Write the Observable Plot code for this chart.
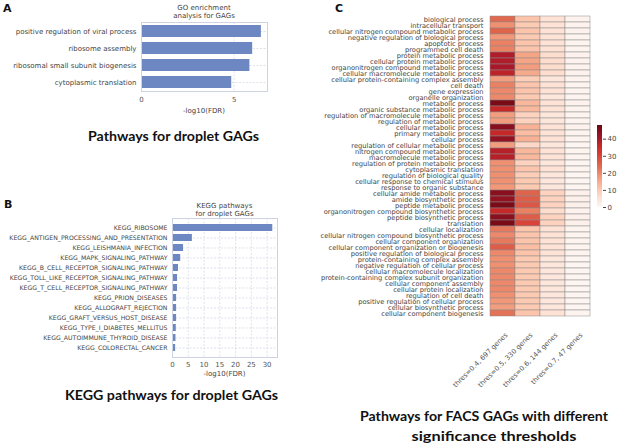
<!DOCTYPE html>
<html><head><meta charset="utf-8">
<script src="https://cdn.jsdelivr.net/npm/d3@7"></script>
<script src="https://cdn.jsdelivr.net/npm/@observablehq/plot@0.6"></script>
<style>
body{margin:0;background:#fff;}
#root{position:relative;width:617px;height:446px;overflow:hidden;}
#root svg{position:absolute;}
</style></head><body><div id="root"></div>
<script>
// ---------- DATA ----------
const goTerms = ["positive regulation of viral process","ribosome assembly","ribosomal small subunit biogenesis","cytoplasmic translation"];
const goValues = [6.47, 6.0, 5.85, 4.87];
const goTicks = [0, 5];

const keggTerms = ["KEGG_RIBOSOME","KEGG_ANTIGEN_PROCESSING_AND_PRESENTATION","KEGG_LEISHMANIA_INFECTION","KEGG_MAPK_SIGNALING_PATHWAY","KEGG_B_CELL_RECEPTOR_SIGNALING_PATHWAY","KEGG_TOLL_LIKE_RECEPTOR_SIGNALING_PATHWAY","KEGG_T_CELL_RECEPTOR_SIGNALING_PATHWAY","KEGG_PRION_DISEASES","KEGG_ALLOGRAFT_REJECTION","KEGG_GRAFT_VERSUS_HOST_DISEASE","KEGG_TYPE_I_DIABETES_MELLITUS","KEGG_AUTOIMMUNE_THYROID_DISEASE","KEGG_COLORECTAL_CANCER"];
const keggValues = [31.8, 6.3, 3.5, 2.6, 1.9, 1.6, 1.6, 1.3, 1.3, 1.3, 1.2, 1.1, 1.0];
const keggTicks = [0, 5, 10, 15, 20, 25, 30];

const thresholds = ["thres=0.4, 697 genes","thres=0.5, 330 genes","thres=0.6, 144 genes","thres=0.7, 47 genes"];
const facsTerms = ["biological process","intracellular transport","cellular nitrogen compound metabolic process","negative regulation of biological process","apoptotic process","programmed cell death","protein metabolic process","cellular protein metabolic process","organonitrogen compound metabolic process","cellular macromolecule metabolic process","cellular protein-containing complex assembly","cell death","gene expression","organelle organization","metabolic process","organic substance metabolic process","regulation of macromolecule metabolic process","regulation of metabolic process","cellular metabolic process","primary metabolic process","cellular process","regulation of cellular metabolic process","nitrogen compound metabolic process","macromolecule metabolic process","regulation of protein metabolic process","cytoplasmic translation","regulation of biological quality","cellular response to chemical stimulus","response to organic substance","cellular amide metabolic process","amide biosynthetic process","peptide metabolic process","organonitrogen compound biosynthetic process","peptide biosynthetic process","translation","cellular localization","cellular nitrogen compound biosynthetic process","cellular component organization","cellular component organization or biogenesis","positive regulation of biological process","protein-containing complex assembly","negative regulation of cellular process","cellular macromolecule localization","protein-containing complex subunit organization","cellular component assembly","cellular protein localization","regulation of cell death","positive regulation of cellular process","cellular biosynthetic process","cellular component biogenesis"];
const facs04 = [24,19,25,18,21,21,39,39,40,37,17,21,20,20,46,36,17,17,44,36,43,17,38,38,19,19,19,19,18,44,43,46,36,44,46,22,20,22,26,20,19,19,20,20,20,20,19,18,17,23];
const facs05 = [11,10,11,10,11,11,16,16,17,15,9,11,11,10,13,13,8,8,14,12,14,7,13,13,8,11,9,10,10,25,26,27,21,26,30,11,11,11,12,11,10,10,10,10,10,10,10,10,10,11];
const facs06 = [5,5,5,5,5,5,6,6,6,6,4,5,5,4,5,5,4,4,5,5,5,4,5,5,4,5,4,4,4,8,8,8,6,8,8,5,5,5,5,5,4,4,4,4,4,4,4,4,4,5];
const facs07 = [1,1,1,0.5,0.5,0.5,1,1,1,1,0.5,0.5,0.5,0.5,1,0.5,0.5,0.5,1,0.5,0.5,0.3,0.5,0.5,0.3,0.5,0.3,0.3,0.3,1.5,1.5,1.5,1,1.5,1.5,0.5,0.5,0.5,0.5,0.5,0.3,0.3,0.3,0.3,0.3,0.3,0.3,0.3,0.3,0.5];
const colorMax = 48;
const colorTicks = [0, 10, 20, 30, 40];
// colour ramp (value stops -> colours)
const rampStops = [0, 5, 11, 19, 24, 30, 36, 40, 48];
const rampColors = ["#fdf6f3", "#fde2d5", "#fcc4aa", "#f09070", "#e06a50", "#d8433a", "#c42828", "#a8182a", "#6a0812"];

// ---------- BUILD ----------
const root = document.getElementById("root");
const baseStyle = {fontFamily: "DejaVu Sans", fontSize: "7px", color: "#444", background: "transparent", overflow: "visible"};
function place(el, left, top) { el.style.left = left + "px"; el.style.top = top + "px"; root.appendChild(el); }

const barColor = "#6d87c3";
const gridStyle = {stroke: "#c9cfdd", strokeOpacity: 1, strokeDasharray: "2,1.5", strokeWidth: 0.6};

// Panel A
const goData = goTerms.map((t, i) => ({term: t, value: goValues[i]}));
const plotA = Plot.plot({
  width: 280, height: 120,
  marginLeft: 141, marginRight: 13, marginTop: 22, marginBottom: 29,
  style: baseStyle,
  x: {domain: [0, 6.8]},
  y: {type: "band", domain: goTerms, paddingInner: 0.3, paddingOuter: 0.15},
  marks: [
    Plot.gridX(goTicks, gridStyle),
    Plot.gridY(goTerms, gridStyle),
    Plot.barX(goData, {x: "value", y: "term", fill: barColor}),
    Plot.frame({stroke: "#cdd3e2"}),
    Plot.axisX(goTicks, {tickSize: 0, tickPadding: 6, label: null, fontSize: 7, fill: "#555"}),
    Plot.axisY({tickSize: 0, tickPadding: 5, label: null, fontSize: 7, fill: "#444"})
  ]
});
place(plotA, 0, 0);

// Panel B
const keggData = keggTerms.map((t, i) => ({term: t, value: keggValues[i]}));
const plotB = Plot.plot({
  width: 285, height: 185,
  marginLeft: 172, marginRight: 8, marginTop: 23, marginBottom: 23,
  style: baseStyle,
  x: {domain: [0, 33.3]},
  y: {type: "band", domain: keggTerms, paddingInner: 0.3, paddingOuter: 0.15},
  marks: [
    Plot.gridX(keggTicks, gridStyle),
    Plot.gridY(keggTerms, gridStyle),
    Plot.barX(keggData, {x: "value", y: "term", fill: barColor}),
    Plot.frame({stroke: "#cdd3e2"}),
    Plot.axisX(keggTicks, {tickSize: 0, tickPadding: 5, label: null, fontSize: 7, fill: "#555"}),
    Plot.axisY({tickSize: 0, tickPadding: 5, label: null, fontSize: 6.2, fill: "#444"})
  ]
});
place(plotB, 0, 195);

// Panel C heatmap
const cols = [facs04, facs05, facs06, facs07];
const heat = [];
facsTerms.forEach((t, i) => thresholds.forEach((th, j) => heat.push({term: t, thres: th, value: cols[j][i]})));
const plotC = Plot.plot({
  width: 262, height: 370,
  marginLeft: 159, marginRight: 1, marginTop: 4, marginBottom: 42,
  style: baseStyle,
  x: {type: "band", domain: thresholds, padding: 0, axis: null},
  y: {type: "band", domain: facsTerms, padding: 0, axis: null},
  color: {type: "linear", domain: rampStops, range: rampColors, interpolate: "rgb"},
  marks: [
    Plot.cell(heat, {x: "thres", y: "term", fill: "value", stroke: "#8a8a8a", strokeWidth: 0.5, inset: 0}),
    Plot.axisY({tickSize: 0, tickPadding: 6, label: null, fontSize: 6.7, fill: "#444"}),
    Plot.text(thresholds, {x: d => d, frameAnchor: "bottom", rotate: -45, textAnchor: "end", dx: 5, dy: 7, fontSize: 6.8, fill: "#555"})
  ]
});
place(plotC, 330, 0);

// Colorbar
const colorScale = plotC.scale("color");
const plotCB = Plot.plot({
  width: 27, height: 110,
  marginLeft: 7, marginRight: 15, marginTop: 15, marginBottom: 13,
  style: baseStyle,
  y: {domain: [0, colorMax]},
  marks: [
    Plot.rect([{y1: 0, y2: colorMax}], {y1: "y1", y2: "y2", fill: "url(#cbgrad)"}),
    Plot.axisY(colorTicks, {anchor: "right", tickSize: 3, tickPadding: 2, label: null, fontSize: 7, fill: "#444", stroke: "#444"})
  ]
});
{
  const defs = d3.select(plotCB).insert("defs", ":first-child");
  const g = defs.append("linearGradient").attr("id", "cbgrad").attr("x1", 0).attr("y1", 1).attr("x2", 0).attr("y2", 0);
  for (let k = 0; k <= 24; k++) g.append("stop").attr("offset", k / 24).attr("stop-color", colorScale.apply(colorMax * k / 24));
}
place(plotCB, 590, 110);

// Overlay text
const ns = "http://www.w3.org/2000/svg";
const ov = document.createElementNS(ns, "svg");
ov.setAttribute("width", 617); ov.setAttribute("height", 446);
ov.style.left = "0px"; ov.style.top = "0px"; ov.style.pointerEvents = "none";
root.appendChild(ov);
function txt(s, x, y, o = {}) {
  const t = document.createElementNS(ns, "text");
  t.textContent = s;
  t.setAttribute("x", x); t.setAttribute("y", y);
  t.setAttribute("text-anchor", o.anchor || "middle");
  t.setAttribute("font-family", o.family || "DejaVu Sans");
  t.setAttribute("font-size", o.size || 7);
  t.setAttribute("font-weight", o.weight || "normal");
  t.setAttribute("fill", o.fill || "#444");
  if (o.len) { t.setAttribute("textLength", o.len); t.setAttribute("lengthAdjust", "spacingAndGlyphs"); }
  ov.appendChild(t);
}
const letter = {anchor: "start", size: 11, weight: "bold", fill: "#111"};
txt("A", 3, 12, letter);
txt("B", 4, 208, letter);
txt("C", 335, 12, letter);
txt("GO enrichment", 204, 9.5);
txt("analysis for GAGs", 204, 18);
txt("-log10(FDR)", 204, 112.5);
txt("KEGG pathways", 224.5, 207.5);
txt("for droplet GAGs", 224.5, 215.5);
txt("-log10(FDR)", 224.5, 376);
const big = {family: "Lato", size: 14, weight: "bold", fill: "#111"};
txt("Pathways for droplet GAGs", 173.5, 140.5, {...big, len: 171});
txt("KEGG pathways for droplet GAGs", 171.5, 399.5, {...big, len: 213});
txt("Pathways for FACS GAGs with different", 484, 421, {...big, len: 248});
txt("significance thresholds", 494, 441, {...big, len: 165});
</script></body></html>
